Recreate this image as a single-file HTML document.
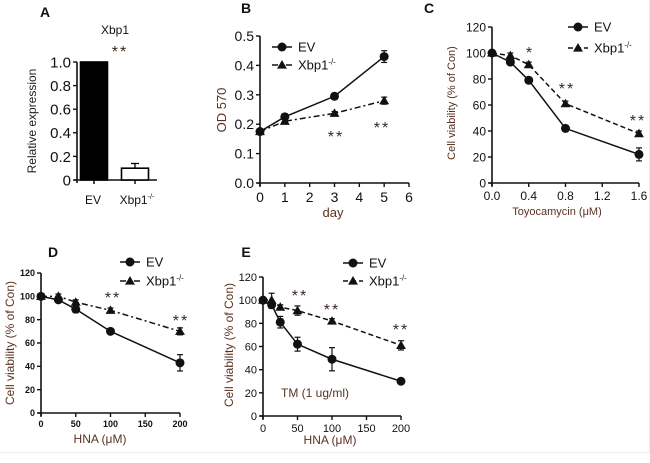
<!DOCTYPE html>
<html><head><meta charset="utf-8">
<style>
html,body{margin:0;padding:0;background:#fff;}
svg{display:block;font-family:"Liberation Sans",Arial,sans-serif;}
</style></head>
<body>
<svg id="fig" width="650" height="463" viewBox="0 0 650 463">
<line x1="0" y1="452.5" x2="650" y2="452.5" stroke="#eee"/>
<line x1="649.5" y1="0" x2="649.5" y2="452" stroke="#eee"/>
</svg>
<script>
// Panel A data
const aCats = ["EV", "Xbp1"];
const aVals = [1.0, 0.1];
const aErr = [0, 0.04];
const aTicks = [0, 0.2, 0.4, 0.6, 0.8, 1.0];
const aTickLabels = ["0", "0.2", "0.4", "0.6", "0.8", "1.0"];
// Panel B data
const bDays = [0, 1, 3, 5];
const bEV = [0.175, 0.225, 0.295, 0.43];
const bEVerr = [0.008, 0.01, 0.008, 0.02];
const bKO = [0.175, 0.21, 0.237, 0.28];
const bKOerr = [0.008, 0.008, 0.006, 0.012];
const bYTicks = [0, 0.1, 0.2, 0.3, 0.4, 0.5];
const bYLabels = ["0.0", "0.1", "0.2", "0.3", "0.4", "0.5"];
const bXTicks = [0, 1, 2, 3, 4, 5, 6];
// Panel C data
const cDose = [0, 0.2, 0.4, 0.8, 1.6];
const cEV = [100, 93, 79, 42, 22];
const cEVerr = [2, 2, 2, 2, 5];
const cKO = [100, 98, 91, 61, 38];
const cKOerr = [1, 2, 2, 2, 2];
const cXTicks = [0, 0.4, 0.8, 1.2, 1.6];
const cXLabels = ["0.0", "0.4", "0.8", "1.2", "1.6"];
// Panel D data
const dDose = [0, 25, 50, 100, 200];
const dEV = [100, 97, 89, 70, 43];
const dEVerr = [2, 2, 3, 2, 7];
const dKO = [100, 100, 95, 88, 70];
const dKOerr = [2, 2, 2, 2, 3];
// Panel E data
const eDose = [0, 12.5, 25, 50, 100, 200];
const eEV = [100, 96, 81, 62, 49, 30];
const eEVerr = [2, 3, 5, 6, 10, 2];
const eKO = [100, 100, 94, 91, 82, 61];
const eKOerr = [2, 6, 2, 4, 2, 4];
const pctTicks = [0, 20, 40, 60, 80, 100, 120];
const hnaTicks = [0, 50, 100, 150, 200];

const NS = "http://www.w3.org/2000/svg";
const svg = document.getElementById("fig");
const TITLE = "#5a3320";
function el(tag, attrs, parent, text) {
  const e = document.createElementNS(NS, tag);
  for (const k in attrs) e.setAttribute(k, attrs[k]);
  if (text !== undefined) e.textContent = text;
  (parent || svg).appendChild(e);
  return e;
}
function grp(name) {
  const g = el("g", {});
  
  
  return g;
}
function label(g, x, y, txt, size, opts) {
  opts = opts || {};
  const t = el("text", {x: x, y: y, "font-size": size, "text-anchor": opts.anchor || "middle", fill: opts.fill || "#111", "font-weight": opts.bold ? "bold" : "normal"}, g, txt);
  if (opts.rot) t.setAttribute("transform", "rotate(-90 " + x + " " + y + ")");
  if (opts.ls) t.setAttribute("letter-spacing", opts.ls);
  
  
  return t;
}
function supLabel(g, x, y, size, name, anchor) {
  const t = el("text", {x: x, y: y, "font-size": size, "text-anchor": anchor || "start", fill: "#111"}, g);
  
  
  el("tspan", {}, t, "Xbp1");
  el("tspan", {"font-size": size * 0.6, dy: -size * 0.4}, t, "-/-");
  return t;
}
function marker(g, type, x, y, r) {
  let m;
  if (type === "circle") m = el("circle", {cx: x, cy: y, r: r, fill: "#111"}, g);
  else m = el("polygon", {points: (x) + "," + (y - r * 1.1) + " " + (x - r * 1.1) + "," + (y + r * 0.8) + " " + (x + r * 1.1) + "," + (y + r * 0.8), fill: "#111"}, g);
  return m;
}
function axes(g, o) {
  const sx = v => o.x0 + (v - o.xmin) / (o.xmax - o.xmin) * (o.x1 - o.x0);
  const sy = v => o.y0 - (v - o.ymin) / (o.ymax - o.ymin) * (o.y0 - o.y1);
  const ax = el("line", {x1: o.x0, y1: o.y0 + 3, x2: o.x0, y2: o.y1, stroke: "#111", "stroke-width": 1.6}, g);
   
  const xa = el("line", {x1: o.x0 - 3, y1: o.y0, x2: o.xEnd || o.x1, y2: o.y0, stroke: "#111", "stroke-width": 1.6}, g);
   
  o.yTicks.forEach((v, i) => {
    el("line", {x1: o.x0 - 4, y1: sy(v), x2: o.x0, y2: sy(v), stroke: "#111", "stroke-width": 1.4}, g);
    label(g, o.x0 - 6, sy(v) + o.yFs * 0.36, o.yLabels[i], o.yFs, {anchor: "end", bold: o.bold, name: 'y-tick-label'});
  });
  if (o.xTicks) o.xTicks.forEach((v, i) => {
    el("line", {x1: sx(v), y1: o.y0, x2: sx(v), y2: o.y0 + 4, stroke: "#111", "stroke-width": 1.4}, g);
    label(g, sx(v), o.y0 + 5 + o.xFs, o.xLabels[i], o.xFs, {bold: o.bold, name: 'x-tick-label'});
  });
  return {sx, sy};
}
function series(g, sc, xs, ys, errs, type, dash, name, r) {
  const sg = el("g", {}, g);
   
  const pts = xs.map((x, i) => sc.sx(x) + "," + sc.sy(ys[i])).join(" ");
  const pl = el("polyline", {points: pts, fill: "none", stroke: "#111", "stroke-width": 1.5, "stroke-dasharray": dash || ""}, sg);
   
  xs.forEach((x, i) => {
    const px = sc.sx(x), py1 = sc.sy(ys[i] + errs[i]), py2 = sc.sy(ys[i] - errs[i]);
    el("line", {x1: px, y1: py1, x2: px, y2: py2, stroke: "#111", "stroke-width": 1.2}, sg);
    el("line", {x1: px - 3, y1: py1, x2: px + 3, y2: py1, stroke: "#111", "stroke-width": 1.2}, sg);
    el("line", {x1: px - 3, y1: py2, x2: px + 3, y2: py2, stroke: "#111", "stroke-width": 1.2}, sg);
    const m = marker(sg, type, px, sc.sy(ys[i]), r || 4.5);
     
  });
}
function legend(g, x, y1, y2, fs, dash1, dash2) {
  const lg = el("g", {}, g);
   
  el("line", {x1: x - 10, y1: y1, x2: x + 10, y2: y1, stroke: "#111", "stroke-width": 1.5}, lg);
  marker(lg, "circle", x, y1, 4.5);
  label(lg, x + 16, y1 + fs * 0.36, "EV", fs, {anchor: "start", name: 'legend-entry-ev'});
  el("line", {x1: x - 10, y1: y2, x2: x + 10, y2: y2, stroke: "#111", "stroke-width": 1.5, "stroke-dasharray": dash2}, lg);
  marker(lg, "tri", x, y2, 4.5);
  supLabel(lg, x + 16, y2 + fs * 0.36, fs, 'legend-entry-xbp1');
}
function stars(g, x, y, s, fs) { label(g, x, y, s, fs || 15, {fill: "#3a2a20", name: 'significance-mark', ls: 2}); }

// ---------- Panel A ----------
(function(){
  const g = grp("panel-a");
  label(g, 45, 17, "A", 14, {bold: true, name: 'panel-label'});
  label(g, 115, 34, "Xbp1", 12, {name: 'chart-title'});
  stars(g, 120, 57, "**", 16);
  const sc = axes(g, {x0: 77, x1: 157, y0: 180, y1: 62, xmin: 0, xmax: 1, ymin: 0, ymax: 1,
    yTicks: aTicks, yLabels: aTickLabels, yFs: 15, xEnd: 157});
  const cx = [94, 135];
  aCats.forEach((c, i) => {
    const b = el("rect", {x: cx[i] - 13.5, y: sc.sy(aVals[i]), width: 27, height: 180 - sc.sy(aVals[i]), fill: i === 0 ? "#000" : "#fff", stroke: "#000", "stroke-width": 1.6}, g);
     
    if (aErr[i] > 0) {
      el("line", {x1: cx[i], y1: sc.sy(aVals[i]), x2: cx[i], y2: sc.sy(aVals[i] + aErr[i]), stroke: "#000", "stroke-width": 1.3}, g);
      el("line", {x1: cx[i] - 4, y1: sc.sy(aVals[i] + aErr[i]), x2: cx[i] + 4, y2: sc.sy(aVals[i] + aErr[i]), stroke: "#000", "stroke-width": 1.3}, g);
    }
    el("line", {x1: cx[i], y1: 180, x2: cx[i], y2: 184, stroke: "#000", "stroke-width": 1.4}, g);
  });
  label(g, 93, 204, "EV", 12, {name: 'x-tick-label'});
  supLabel(g, 137, 204, 12, 'x-tick-label', "middle");
  label(g, 36, 121, "Relative expression", 12, {rot: true, fill: "#222", name: 'y-axis-title'});
})();

// ---------- Panel B ----------
(function(){
  const g = grp("panel-b");
  label(g, 246, 13, "B", 14, {bold: true, name: 'panel-label'});
  const sc = axes(g, {x0: 260, x1: 409, y0: 183, y1: 36, xmin: 0, xmax: 6, ymin: 0, ymax: 0.5,
    yTicks: bYTicks, yLabels: bYLabels, yFs: 14, xTicks: bXTicks, xLabels: bXTicks.map(String), xFs: 14});
  series(g, sc, bDays, bKO, bKOerr, "tri", "6,3,2,3", "series-xbp1");
  series(g, sc, bDays, bEV, bEVerr, "circle", "", "series-ev");
  legend(g, 282, 47, 65, 13, "", "6,3,2,3");
  stars(g, 336, 142, "**", 16);
  stars(g, 382, 133, "**", 16);
  label(g, 333, 217, "day", 13, {fill: TITLE, name: 'x-axis-title'});
  label(g, 226, 110, "OD 570", 13, {rot: true, fill: TITLE, name: 'y-axis-title'});
})();

// ---------- Panel C ----------
(function(){
  const g = grp("panel-c");
  label(g, 429, 13, "C", 14, {bold: true, name: 'panel-label'});
  const sc = axes(g, {x0: 492, x1: 639, y0: 183, y1: 27, xmin: 0, xmax: 1.6, ymin: 0, ymax: 120,
    yTicks: pctTicks, yLabels: pctTicks.map(String), yFs: 12, xTicks: cXTicks, xLabels: cXLabels, xFs: 12});
  series(g, sc, cDose, cKO, cKOerr, "tri", "5,3", "series-xbp1");
  series(g, sc, cDose, cEV, cEVerr, "circle", "", "series-ev");
  legend(g, 578, 27, 48, 13, "", "5,3");
  stars(g, 530, 58, "*", 16);
  stars(g, 567, 94, "**", 16);
  stars(g, 638, 126, "**", 16);
  label(g, 557, 215, "Toyocamycin  (μM)", 11, {fill: TITLE, name: 'x-axis-title'});
  label(g, 455, 103, "Cell viability (% of Con)", 11, {rot: true, fill: TITLE, name: 'y-axis-title'});
})();

// ---------- Panel D ----------
(function(){
  const g = grp("panel-d");
  label(g, 53, 257, "D", 14, {bold: true, name: 'panel-label'});
  const sc = axes(g, {x0: 41, x1: 180, y0: 413, y1: 273, xmin: 0, xmax: 200, ymin: 0, ymax: 120,
    yTicks: pctTicks, yLabels: pctTicks.map(String), yFs: 9, xTicks: hnaTicks, xLabels: hnaTicks.map(String), xFs: 9, bold: true});
  series(g, sc, dDose, dKO, dKOerr, "tri", "6,3,2,3", "series-xbp1");
  series(g, sc, dDose, dEV, dEVerr, "circle", "", "series-ev");
  legend(g, 130, 262, 281, 13, "", "6,3,2,3");
  stars(g, 113, 303, "**", 16);
  stars(g, 181, 326, "**", 16);
  label(g, 100, 443, "HNA (μM)", 12, {fill: TITLE, name: 'x-axis-title'});
  label(g, 14, 343, "Cell viability (% of Con)", 12, {rot: true, fill: TITLE, name: 'y-axis-title'});
})();

// ---------- Panel E ----------
(function(){
  const g = grp("panel-e");
  label(g, 246, 257, "E", 14, {bold: true, name: 'panel-label'});
  const sc = axes(g, {x0: 263, x1: 401, y0: 416, y1: 277, xmin: 0, xmax: 200, ymin: 0, ymax: 120,
    yTicks: pctTicks, yLabels: pctTicks.map(String), yFs: 11, xTicks: hnaTicks, xLabels: hnaTicks.map(String), xFs: 11});
  series(g, sc, eDose, eKO, eKOerr, "tri", "5,3", "series-xbp1");
  series(g, sc, eDose, eEV, eEVerr, "circle", "", "series-ev");
  legend(g, 353, 263, 281, 13, "", "5,3");
  stars(g, 300, 301, "**", 16);
  stars(g, 332, 315, "**", 16);
  stars(g, 401, 335, "**", 16);
  label(g, 281, 397, "TM (1 ug/ml)", 12, {fill: TITLE, anchor: "start", name: 'annotation'});
  label(g, 330, 444, "HNA (μM)", 12, {fill: TITLE, name: 'x-axis-title'});
  label(g, 233, 345, "Cell viability (% of Con)", 12, {rot: true, fill: TITLE, name: 'y-axis-title'});
})();
</script>
</body></html>
